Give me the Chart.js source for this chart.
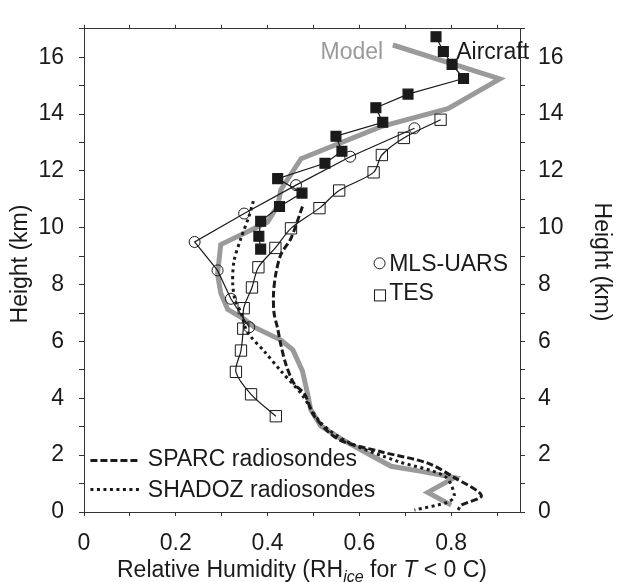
<!DOCTYPE html>
<html>
<head>
<meta charset="utf-8">
<script src="https://cdn.jsdelivr.net/npm/chart.js@4.4.1/dist/chart.umd.min.js"></script>
<style>
  body { margin: 0; background: #fff; }
  canvas { display: block; }
</style>
</head>
<body>
<canvas id="rhChart" width="617" height="582"></canvas>
<script>
// values (height in km, relative humidity as fraction)
const aircraftHeight = [16.72, 16.20, 15.75, 15.25, 14.70, 14.22, 13.71, 13.22, 12.69, 12.27, 11.73, 11.22, 10.75, 10.23, 9.70, 9.25];
const aircraftRH     = [0.767, 0.783, 0.802, 0.827, 0.706, 0.636, 0.651, 0.549, 0.562, 0.525, 0.422, 0.475, 0.426, 0.385, 0.381, 0.385];

const mlsHeight = [13.5, 12.5, 11.5, 10.5, 9.5, 8.5, 7.5, 6.5];
const mlsRH     = [0.720, 0.580, 0.462, 0.349, 0.241, 0.291, 0.320, 0.360];

const tesHeight = [13.80, 13.16, 12.56, 11.95, 11.31, 10.69, 9.98, 9.29, 8.61, 7.90, 7.17, 6.45, 5.68, 4.93, 4.14, 3.37];
const tesRH     = [0.777, 0.697, 0.649, 0.631, 0.556, 0.513, 0.451, 0.417, 0.380, 0.366, 0.348, 0.347, 0.342, 0.331, 0.364, 0.418];

const modelHeight = [16.43, 15.24, 14.19, 13.56, 12.43, 11.34, 10.77, 10.20, 9.86, 9.41, 8.38, 7.70, 7.13, 6.79, 6.50, 6.05, 5.71, 4.96, 4.17, 3.60, 3.03, 2.57, 2.12, 1.61, 1.43, 1.21, 0.69, 0.24];
const modelRH     = [0.673, 0.906, 0.793, 0.647, 0.473, 0.429, 0.422, 0.400, 0.356, 0.298, 0.291, 0.298, 0.313, 0.349, 0.371, 0.429, 0.455, 0.476, 0.487, 0.494, 0.516, 0.560, 0.611, 0.669, 0.735, 0.807, 0.749, 0.800];

const sparcHeight = [10.75, 9.63, 9.06, 8.38, 7.70, 7.01, 6.45, 5.88, 5.19, 4.51, 4.17, 3.37, 2.57, 2.12, 1.72, 1.21, 0.58, 0.24, 0.07];
const sparcRH     = [0.476, 0.451, 0.429, 0.418, 0.413, 0.414, 0.422, 0.429, 0.440, 0.458, 0.480, 0.502, 0.553, 0.647, 0.749, 0.807, 0.866, 0.822, 0.815];

const shadozHeight = [10.94, 10.43, 9.63, 8.84, 8.04, 7.47, 7.01, 6.33, 5.65, 4.96, 4.17, 3.14, 2.46, 1.78, 1.26, 0.58, 0.35, 0.07];
const shadozRH     = [0.369, 0.360, 0.342, 0.327, 0.324, 0.329, 0.342, 0.356, 0.393, 0.429, 0.473, 0.516, 0.575, 0.684, 0.786, 0.807, 0.793, 0.720];

const xTickLabels = [0, 0.2, 0.4, 0.6, 0.8];
const yTickLabels = [0, 2, 4, 6, 8, 10, 12, 14, 16];

const FONT = '"Liberation Sans", Arial, Helvetica, sans-serif';
const INK = '#1a1a1a';
const GREY = '#9a9a9a';

function pts(xs, ys) {
  return xs.map((v, i) => ({ x: v, y: ys[i] }));
}

function xLabel(v) {
  if (!xTickLabels.some(t => Math.abs(t - v) < 1e-6)) return '';
  return v === 0 ? '0' : v.toFixed(1);
}
function yLabel(v) {
  return yTickLabels.includes(v) ? String(v) : '';
}

// axis titles, in-plot labels and the two hand-made legends
const figureText = {
  id: 'figureText',
  afterDraw(chart) {
    const { ctx, chartArea, scales: { x, y } } = chart;
    const px = v => x.getPixelForValue(v);
    const py = v => y.getPixelForValue(v);
    ctx.save();
    ctx.font = '23px ' + FONT;
    ctx.textBaseline = 'alphabetic';

    ctx.fillStyle = GREY;
    ctx.textAlign = 'right';
    ctx.fillText('Model', px(0.652), py(15.92));
    ctx.fillStyle = INK;
    ctx.textAlign = 'left';
    ctx.fillText('Aircraft', px(0.811), py(15.95));

    // MLS / TES legend
    ctx.strokeStyle = INK;
    ctx.lineWidth = 1;
    ctx.beginPath();
    ctx.arc(px(0.644), py(8.75), 5.5, 0, Math.PI * 2);
    ctx.stroke();
    ctx.strokeRect(px(0.645) - 5.5, py(7.62) - 5.5, 11, 11);
    ctx.fillText('MLS-UARS', px(0.665), py(8.49));
    ctx.fillText('TES', px(0.665), py(7.45));

    // radiosonde legend
    ctx.lineWidth = 3;
    ctx.setLineDash([7, 3]);
    ctx.beginPath();
    ctx.moveTo(px(0.014), py(1.81));
    ctx.lineTo(px(0.123), py(1.81));
    ctx.stroke();
    ctx.setLineDash([3, 3.5]);
    ctx.beginPath();
    ctx.moveTo(px(0.014), py(0.79));
    ctx.lineTo(px(0.123), py(0.79));
    ctx.stroke();
    ctx.setLineDash([]);
    ctx.fillText('SPARC radiosondes', px(0.139), py(1.61));
    ctx.fillText('SHADOZ radiosondes', px(0.139), py(0.52));

    // x title with subscript / italics
    const parts = [
      { t: 'Relative Humidity (RH', f: '23px ' + FONT, dy: 0 },
      { t: 'ice', f: 'italic 16px ' + FONT, dy: 5 },
      { t: ' for ', f: '23px ' + FONT, dy: 0 },
      { t: 'T', f: 'italic 23px ' + FONT, dy: 0 },
      { t: ' < 0 C)', f: '23px ' + FONT, dy: 0 }
    ];
    let w = 0;
    parts.forEach(p => { ctx.font = p.f; w += ctx.measureText(p.t).width; });
    let cx = (chartArea.left + chartArea.right) / 2 - w / 2;
    parts.forEach(p => {
      ctx.font = p.f;
      ctx.fillText(p.t, cx, 577 + p.dy);
      cx += ctx.measureText(p.t).width;
    });

    ctx.font = '23px ' + FONT;
    ctx.textAlign = 'center';
    ctx.save();
    ctx.translate(27, 264);
    ctx.rotate(-Math.PI / 2);
    ctx.fillText('Height (km)', 0, 0);
    ctx.restore();
    ctx.save();
    ctx.translate(595, 262);
    ctx.rotate(Math.PI / 2);
    ctx.fillText('Height (km)', 0, 0);
    ctx.restore();
    ctx.restore();
  }
};

const axisGrid = { drawOnChartArea: false, drawTicks: true, tickLength: 5, color: '#333', tickColor: '#333' };
const xGrid = { drawOnChartArea: false, drawTicks: true, tickLength: 4, color: '#333', tickColor: '#333' };
const axisBorder = { display: true, color: '#333', width: 1 };
const tickFont = { family: FONT, size: 23 };

const config = {
  type: 'scatter',
  data: {
    datasets: [
      {
        label: 'Aircraft',
        data: pts(aircraftRH, aircraftHeight),
        showLine: true,
        borderColor: INK,
        borderWidth: 1.2,
        pointStyle: 'rect',
        pointRadius: 7,
        pointBackgroundColor: INK,
        pointBorderColor: INK
      },
      {
        label: 'MLS-UARS',
        data: pts(mlsRH, mlsHeight),
        showLine: true,
        borderColor: INK,
        borderWidth: 1.2,
        pointStyle: 'circle',
        pointRadius: 5.5,
        pointBackgroundColor: 'rgba(0,0,0,0)',
        pointBorderColor: INK,
        pointBorderWidth: 1
      },
      {
        label: 'TES',
        data: pts(tesRH, tesHeight),
        showLine: true,
        tension: 0.3,
        borderColor: INK,
        borderWidth: 1.2,
        pointStyle: 'rect',
        pointRadius: 8,
        pointBackgroundColor: 'rgba(0,0,0,0)',
        pointBorderColor: INK,
        pointBorderWidth: 1
      },
      {
        label: 'SHADOZ radiosondes',
        data: pts(shadozRH, shadozHeight),
        showLine: true,
        tension: 0.3,
        borderColor: INK,
        borderWidth: 3,
        borderDash: [3, 3.5],
        pointRadius: 0
      },
      {
        label: 'SPARC radiosondes',
        data: pts(sparcRH, sparcHeight),
        showLine: true,
        tension: 0.3,
        borderColor: INK,
        borderWidth: 3,
        borderDash: [7, 3],
        pointRadius: 0
      },
      {
        label: 'Model',
        data: pts(modelRH, modelHeight),
        showLine: true,
        borderColor: GREY,
        borderWidth: 5,
        borderJoinStyle: 'miter',
        pointRadius: 0
      }
    ]
  },
  options: {
    responsive: false,
    animation: false,
    layout: { padding: 0 },
    plugins: { legend: { display: false }, tooltip: { enabled: false } },
    scales: {
      x: {
        type: 'linear', position: 'bottom', min: 0, max: 0.95,
        grid: xGrid, border: axisBorder,
        ticks: { stepSize: 0.1, includeBounds: false, autoSkip: false, maxRotation: 0, padding: 14, color: INK, font: tickFont, callback: xLabel },
        afterFit: s => { s.height = 70; }
      },
      x2: {
        type: 'linear', position: 'top', min: 0, max: 0.95,
        grid: xGrid, border: axisBorder,
        ticks: { stepSize: 0.1, includeBounds: false, autoSkip: false, callback: () => '' },
        afterFit: s => { s.height = 15; }
      },
      y: {
        type: 'linear', position: 'left', min: 0, max: 17,
        grid: axisGrid, border: axisBorder,
        ticks: { stepSize: 1, autoSkip: false, padding: 15, color: INK, font: tickFont, callback: yLabel },
        afterFit: s => { s.width = 84; }
      },
      y2: {
        type: 'linear', position: 'right', min: 0, max: 17,
        grid: axisGrid, border: axisBorder,
        ticks: { stepSize: 1, autoSkip: false, padding: 13, color: INK, font: tickFont, callback: yLabel },
        afterFit: s => { s.width = 97; }
      }
    }
  },
  plugins: [figureText]
};

const rhChart = new Chart(document.getElementById('rhChart'), config);
</script>
</body>
</html>
